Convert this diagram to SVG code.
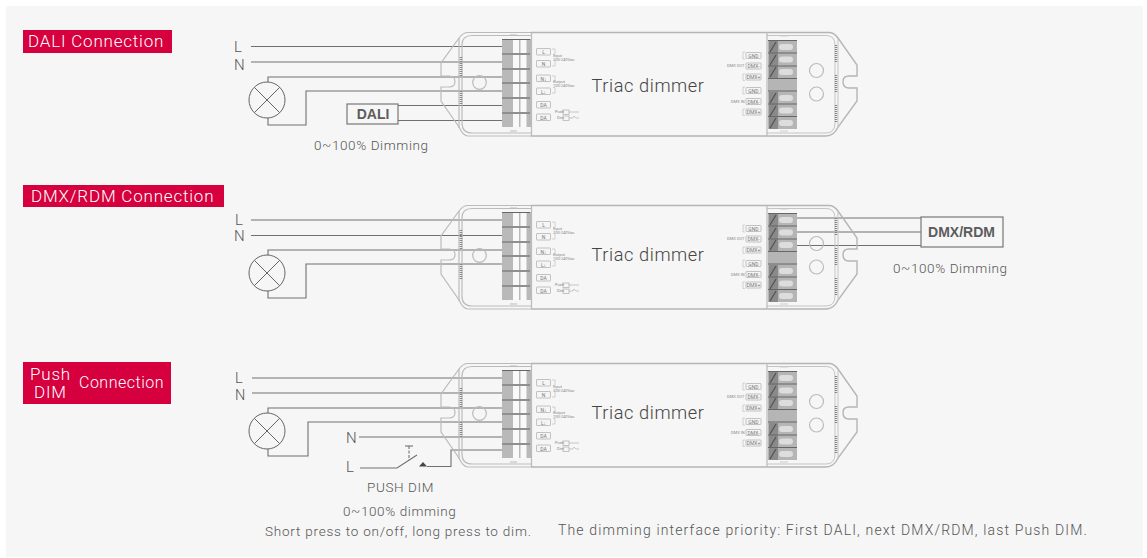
<svg xmlns="http://www.w3.org/2000/svg" width="1147" height="558" viewBox="0 0 1147 558">
<style>
text{font-family:"Roboto","Liberation Sans",sans-serif;fill:#666;font-weight:300}
.t{fill:#fff;font-size:17px;letter-spacing:.8px}
.lb{font-size:15px;letter-spacing:.5px;fill:#555}
.c{font-size:13.500px;letter-spacing:.6px;fill:#555}
.dm{font-size:18.200px;letter-spacing:.6px;fill:#444;text-anchor:middle}
.b{font-family:"Liberation Sans",sans-serif;font-weight:700;font-size:14px;fill:#5c5c5c;text-anchor:middle}
.s{font-size:5px;fill:#777;text-anchor:middle;font-weight:400}
.x{font-size:4px;fill:#888;font-weight:400}
.w{fill:none;stroke:#707070;stroke-width:1.100}
.lp{fill:none;stroke:#666;stroke-width:1}
.sh{fill:none;stroke:#bbb;stroke-width:1.200}
.sh2{fill:none;stroke:#c4c4c4;stroke-width:1}
.sb{fill:#f5f5f5;stroke:#b5b5b5;stroke-width:.8}
.bar{stroke:#666;stroke-width:1.100}
</style>
<defs>
<g id="body">
<path class="sh" d="M531 32.500H468Q463 32.500 459 38L441 63V76H449Q455 76 455 81.500Q455 87 449 87H441V101L459 127Q463 136 468 136H531"/>
<path class="sh" d="M531 35.500H472Q462 35.500 462 45V123Q462 133 472 133H531"/>
<path class="sh" d="M459 38V128"/>
<path d="M461 57V77M461 91V107" fill="none" stroke="#888" stroke-width="2.500" stroke-dasharray="1 1"/>
<circle class="sh" cx="479.500" cy="82.500" r="6.800"/>
<path d="M510 35h7M510 131h7" stroke="#bbb" stroke-width="1"/>
<rect x="502" y="39" width="29" height="88" fill="#b9b9b9"/>
<path d="M513 40H519V53H513ZM513 55H519V68H513ZM513 70H519V82H513ZM513 84H519V97H513ZM513 99H519V112H513ZM513 114H519V127H513ZM520.500 40H526.500V53H520.500ZM520.500 55H526.500V68H520.500ZM520.500 70H526.500V82H520.500ZM520.500 84H526.500V97H520.500ZM520.500 99H526.500V112H520.500ZM520.500 114H526.500V127H520.500Z" fill="#f9f9f9"/>
<path class="bar" d="M502 39.500H530M502 54H530M502 69H530M502 83H530M502 98H530M502 113H530"/>
<path d="M531.500 32V136" stroke="#bbb" stroke-width="1.200"/>
<path d="M531 32.500H829Q834 32.500 838 38L857 65V76H849Q843 76 843 81.500Q843 88 849 88H857V101L838 127Q834 136 826 136H531" fill="none" stroke="#b5b5b5" stroke-width="1.400"/>
<path class="sh2" d="M767 35.500H826Q835 35.500 835 45V123Q835 133 826 133H767"/>
<path class="sh2" d="M838 38V128"/>
<path d="M836 45V63M836 75V93M836 105V123" fill="none" stroke="#888" stroke-width="2.500" stroke-dasharray="1 1"/>
<path d="M767 32V136" stroke="#bbb" stroke-width="1.200"/>
<path d="M780 36h8M780 131h8" stroke="#ccc" stroke-width="1"/>
<rect x="768" y="40" width="29" height="89" fill="#b5b5b5"/>
<path d="M769 41H778V78H769ZM769 92H778V129H769Z" fill="#8a8a8a"/>
<path d="M770 52L776 42M770 65L776 55M770 77L776 67M770 103L776 93M770 116L776 106M770 128L776 118" stroke="#555" stroke-width="1.300"/>
<path d="M782 47H790M782 59.500H790M782 72H790M782 98H790M782 110.500H790M782 123H790" stroke="#ddd" stroke-width="6" stroke-linecap="round"/>
<path class="bar" d="M768 40.500H797M768 53H797M768 66H797M768 78.500H797M768 91H797M768 104H797M768 116.500H797"/>
<circle class="sh" cx="816.500" cy="70.500" r="7"/><circle class="sh" cx="816.500" cy="94" r="7"/>
<g class="sb">
<rect x="536.500" y="48.500" width="14" height="6.500" rx=".5"/><rect x="536.500" y="60.500" width="14" height="6.500" rx=".5"/><rect x="536.500" y="75" width="14" height="6.500" rx=".5"/><rect x="536.500" y="88" width="14" height="6.500" rx=".5"/><rect x="536.500" y="101.500" width="14" height="6.500" rx=".5"/><rect x="536.500" y="114" width="14" height="6.500" rx=".5"/>
<rect x="746" y="52.500" width="15" height="6" rx=".5"/><rect x="746" y="63" width="15" height="6" rx=".5"/><rect x="746" y="74" width="15" height="6" rx=".5"/><rect x="746" y="87.500" width="15" height="6" rx=".5"/><rect x="746" y="98.500" width="15" height="6" rx=".5"/><rect x="746" y="109" width="15" height="6" rx=".5"/>
<rect x="563" y="110" width="6" height="4.500"/><rect x="563" y="116" width="6" height="4.500"/>
</g>
<path d="M552 49h3v5.500h-2M552 66h3v-5.500h-2M552 76h3v5.500h-2M552 93h3v-5.500h-2M745 52h-2v7h2M745 74h-2v6.500h2M745 87h-2v7h2M745 109h-2v6.500h2" fill="none" stroke="#bbb" stroke-width=".6"/>
<path d="M569 112H579M569 118H573L574 116L576 118H579" fill="none" stroke="#aaa" stroke-width=".6"/>
</g>
<g id="lamp">
<circle class="lp" cx="267" cy="100" r="18"/>
<path class="lp" d="M254.300 87.300L279.700 112.700M279.700 87.300L254.300 112.700"/>
</g>
</defs>
<rect width="1147" height="558" fill="#fff"/>
<rect x="6" y="6" width="1137" height="551" fill="#f6f6f6"/>

<g id="title-dali"><rect x="23" y="30" width="149" height="23" fill="#d6003f"/><text class="t" x="28" y="47">DALI Connection</text></g>
<g id="title-dmx"><rect x="23" y="185" width="201" height="22" fill="#d6003f"/><text class="t" x="31" y="202">DMX/RDM Connection</text></g>
<g id="title-push"><rect x="23" y="362" width="148" height="42" fill="#d6003f"/><text class="t" x="30" y="380">Push</text><text class="t" x="34" y="398">DIM</text><text class="t" x="79" y="388" style="font-size:16px;letter-spacing:.5px">Connection</text></g>

<g id="connectors">
<path class="w" d="M251 46.500H502M251 62H502M268 82V77H502M268 118V125H306V91H502M398 105.500H502M398 120.500H502"/>
<path class="w" d="M251 220H502M251 235.500H502M268 255V250H502M268 291V298H306V264H502M797 218H921M797 232H921M797 245.500H921"/>
<path class="w" d="M252 378H502M252 393H502M268 413V408H502M268 449V456H308V422H502M359 437H502M360 468H397L417 455M427 466.500H451V450H502"/>
<path d="M409 446V460" fill="none" stroke="#666" stroke-width="1" stroke-dasharray="3 1.500"/><path d="M405 446H413" fill="none" stroke="#666" stroke-width="1"/>
<path d="M419 466.500L423 462L427 466.500Z" fill="#444"/>
</g>

<g id="device-dali">
<use href="#body"/>
<text class="dm" x="648" y="92">Triac dimmer</text>
<text class="s" x="543.500" y="54">L</text><text class="s" x="543.500" y="66">N</text><text class="s" x="543.500" y="80.500">N↓</text><text class="s" x="543.500" y="93.500">L↓</text><text class="s" x="543.500" y="107">DA</text><text class="s" x="543.500" y="119.500">DA</text>
<text class="x" x="553" y="57">Input</text><text class="x" x="553" y="61">100-240Vac</text><text class="x" x="553" y="83">Output</text><text class="x" x="553" y="87">100-240Vac</text><text class="x" x="555" y="113">Push</text><text class="x" x="557" y="119">Dim</text>
<text class="s" x="753.500" y="57.500">GND</text><text class="s" x="753.500" y="68">DMX-</text><text class="s" x="753.500" y="79">DMX+</text><text class="s" x="753.500" y="92.500">GND</text><text class="s" x="753.500" y="103.500">DMX-</text><text class="s" x="753.500" y="114">DMX+</text>
<text class="x" x="727" y="67">DMX OUT</text><text class="x" x="731" y="102.500">DMX IN</text>
</g>
<g id="device-dmx" transform="translate(0,173)">
<use href="#body"/>
<text class="dm" x="648" y="88">Triac dimmer</text>
<text class="s" x="543.500" y="54">L</text><text class="s" x="543.500" y="66">N</text><text class="s" x="543.500" y="80.500">N↓</text><text class="s" x="543.500" y="93.500">L↓</text><text class="s" x="543.500" y="107">DA</text><text class="s" x="543.500" y="119.500">DA</text>
<text class="x" x="553" y="57">Input</text><text class="x" x="553" y="61">100-240Vac</text><text class="x" x="553" y="83">Output</text><text class="x" x="553" y="87">100-240Vac</text><text class="x" x="555" y="113">Push</text><text class="x" x="557" y="119">Dim</text>
<text class="s" x="753.500" y="57.500">GND</text><text class="s" x="753.500" y="68">DMX-</text><text class="s" x="753.500" y="79">DMX+</text><text class="s" x="753.500" y="92.500">GND</text><text class="s" x="753.500" y="103.500">DMX-</text><text class="s" x="753.500" y="114">DMX+</text>
<text class="x" x="727" y="67">DMX OUT</text><text class="x" x="731" y="102.500">DMX IN</text>
</g>
<g id="device-push" transform="translate(0,331)">
<use href="#body"/>
<text class="dm" x="648" y="88">Triac dimmer</text>
<text class="s" x="543.500" y="54">L</text><text class="s" x="543.500" y="66">N</text><text class="s" x="543.500" y="80.500">N↓</text><text class="s" x="543.500" y="93.500">L↓</text><text class="s" x="543.500" y="107">DA</text><text class="s" x="543.500" y="119.500">DA</text>
<text class="x" x="553" y="57">Input</text><text class="x" x="553" y="61">100-240Vac</text><text class="x" x="553" y="83">Output</text><text class="x" x="553" y="87">100-240Vac</text><text class="x" x="555" y="113">Push</text><text class="x" x="557" y="119">Dim</text>
<text class="s" x="753.500" y="57.500">GND</text><text class="s" x="753.500" y="68">DMX-</text><text class="s" x="753.500" y="79">DMX+</text><text class="s" x="753.500" y="92.500">GND</text><text class="s" x="753.500" y="103.500">DMX-</text><text class="s" x="753.500" y="114">DMX+</text>
<text class="x" x="727" y="67">DMX OUT</text><text class="x" x="731" y="102.500">DMX IN</text>
</g>

<g id="lamp-dali"><use href="#lamp"/></g>
<g id="lamp-dmx"><use href="#lamp" y="173"/></g>
<g id="lamp-push"><use href="#lamp" y="331"/></g>

<g id="dali-box"><rect x="347" y="104" width="51" height="20" fill="#f6f6f6" stroke="#777" stroke-width="1.200"/><text class="b" x="373" y="119">DALI</text></g>
<g id="dmx-box"><rect x="921" y="217" width="82" height="30" fill="#f6f6f6" stroke="#777" stroke-width="1.200"/><text class="b" x="961.500" y="237">DMX/RDM</text></g>

<g id="labels">
<text class="lb" x="234" y="52">L</text><text class="lb" x="234" y="70">N</text>
<text class="lb" x="235" y="225">L</text><text class="lb" x="234" y="241">N</text>
<text class="lb" x="235" y="383" style="font-size:14.500px">L</text><text class="lb" x="235" y="400" style="font-size:14.500px">N</text>
<text class="lb" x="346" y="443">N</text><text class="lb" x="346" y="472">L</text>
<text class="c" x="314" y="150">0~100% Dimming</text>
<text class="c" x="893" y="273">0~100% Dimming</text>
<text class="c" x="367" y="492">PUSH DIM</text>
<text class="c" x="343" y="516">0~100% dimming</text>
<text class="c" x="265" y="536" style="letter-spacing:.78px">Short press to on/off, long press to dim.</text>
<text class="c" x="558" y="535" style="font-size:14px;letter-spacing:1.160px">The dimming interface priority: First DALI, next DMX/RDM, last Push DIM.</text>
</g>
</svg>
